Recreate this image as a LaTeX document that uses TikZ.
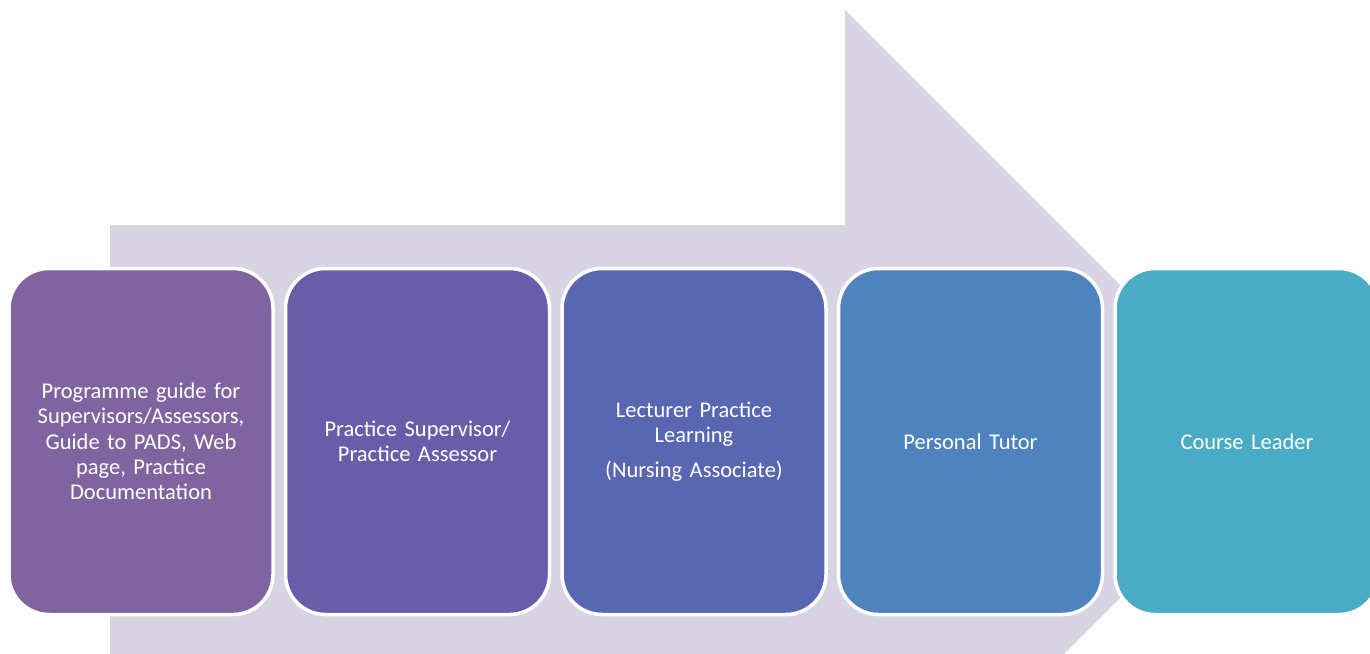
\documentclass[tikz,border=0pt]{standalone}
\usepackage{fontspec}
\setmainfont{Carlito}
\definecolor{arrowfill}{HTML}{D8D4E3}
\definecolor{stepA}{HTML}{7F64A0}
\definecolor{stepB}{HTML}{695DA9}
\definecolor{stepC}{HTML}{5966B1}
\definecolor{stepD}{HTML}{4F83BD}
\definecolor{stepE}{HTML}{4AABC5}
\tikzset{
  stagebox/.style={draw=white, line width=3.5pt, rounded corners=40pt,
    minimum width=264pt, minimum height=346pt, text width=240pt,
    align=center, text=white, font=\fontsize{22.5}{25.3}\selectfont, inner sep=0pt},
}
\begin{document}
\begin{tikzpicture}[x=1pt,y=-1pt]
  \useasboundingbox (0,0) rectangle (1370,653);
  \clip (0,0) rectangle (1370,653);
  % background process arrow
  \fill[arrowfill] (110,225) -- (845,225) -- (845,10) -- (1276.5,441.5)
    -- (845,873) -- (845,657) -- (110,657) -- cycle;
  % stages
  \node[stagebox, fill=stepA] (guide) at (141,441.5)
    {Programme guide for\\Supervisors/Assessors,\\Guide to PADS, Web\\page, Practice\\Documentation};
  \node[stagebox, fill=stepB] (supervisor) at (417.5,441.5)
    {Practice Supervisor/\\Practice Assessor};
  \node[stagebox, fill=stepC] (lecturer) at (694,441.5)
    {Lecturer Practice\\Learning\\[9pt](Nursing Associate)};
  \node[stagebox, fill=stepD] (tutor) at (970.5,441.5) {Personal Tutor};
  \node[stagebox, fill=stepE] (leader) at (1247,441.5) {Course Leader};
\end{tikzpicture}
\end{document}
